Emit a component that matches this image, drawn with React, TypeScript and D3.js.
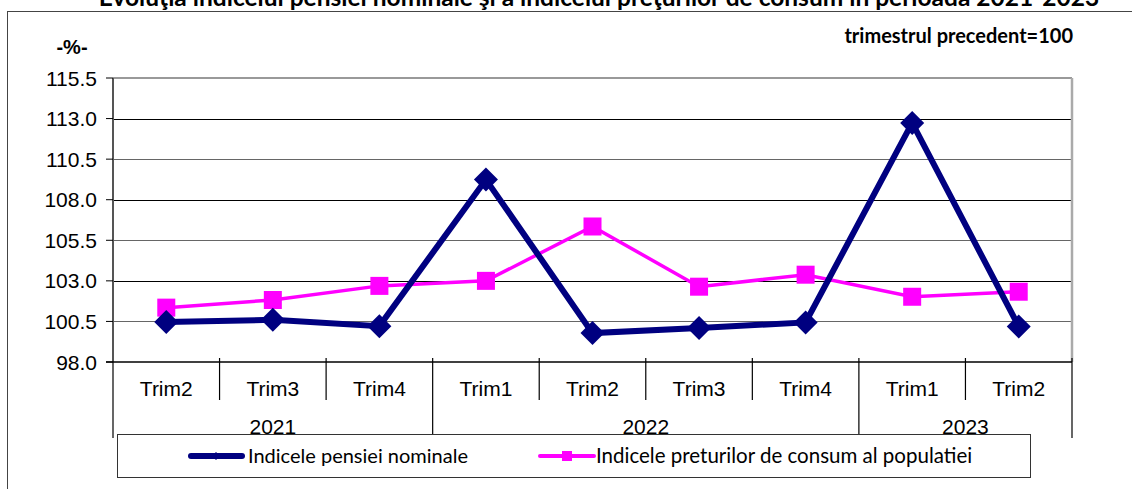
import React from 'react'
import * as d3 from 'd3'

// chart data
const quarters = ['Trim2', 'Trim3', 'Trim4', 'Trim1', 'Trim2', 'Trim3', 'Trim4', 'Trim1', 'Trim2']
const quarterYears = ['2021', '2021', '2021', '2022', '2022', '2022', '2022', '2023', '2023']
const pensionIndex = [100.46, 100.6, 100.21, 109.24, 99.78, 100.09, 100.44, 112.73, 100.19]
const priceIndex = [101.35, 101.82, 102.69, 103.0, 106.35, 102.64, 103.38, 102.02, 102.33]
const yTicks = [98.0, 100.5, 103.0, 105.5, 108.0, 110.5, 113.0, 115.5]

const seriesNames = ['Indicele pensiei nominale', 'Indicele preturilor de consum al populatiei']
const title = 'Evoluţia indicelui pensiei nominale şi a indicelui preţurilor de consum în perioada 2021-2023'

const W = 1132
const H = 489
const plot = { left: 113, right: 1072, top: 78, bottom: 362 }
const numFont = '"Liberation Sans", Arial, sans-serif'
const txtFont = 'Lato, "Open Sans", sans-serif'

export default function App() {
  const x = d3.scaleBand<number>()
    .domain(d3.range(quarters.length))
    .range([plot.left, plot.right])
  const y = d3.scaleLinear().domain([98, 115.5]).range([plot.bottom, plot.top])
  const cx = (i: number) => (x(i) ?? 0) + x.bandwidth() / 2

  const line = d3.line<number>()
    .x((_, i) => cx(i))
    .y(d => y(d))

  // group consecutive quarters by year for the second axis row
  const yearGroups: { year: string; start: number; end: number }[] = []
  quarterYears.forEach((yr, i) => {
    const last = yearGroups[yearGroups.length - 1]
    if (last && last.year === yr) last.end = i
    else yearGroups.push({ year: yr, start: i, end: i })
  })
  const bandEdge = (i: number) => (x(i) ?? plot.right)

  const diamond = (px: number, py: number, r: number) =>
    `M${px},${py - r}L${px + r},${py}L${px},${py + r}L${px - r},${py}Z`

  return (
    <div style={{ position: 'absolute', left: 0, top: 0 }}>
      <svg width={W} height={H} style={{ display: 'block', background: '#fff' }}>
        {/* outer chart frame */}
        <rect x={7.5} y={11.5} width={W + 20} height={H + 20} fill="none" stroke="#444" strokeWidth={1} />

        <text x={599} y={6} textAnchor="middle" fontFamily={txtFont} fontWeight="bold" fontSize={24.5} fill="#000">
          {title}
        </text>
        <text x={72} y={54} textAnchor="middle" fontFamily={numFont} fontWeight="bold" fontSize={20} fill="#000">
          -%-
        </text>
        <text x={1073} y={43} textAnchor="end" fontFamily={txtFont} fontWeight="bold" fontSize={20} fill="#000">
          trimestrul precedent=100
        </text>

        {/* gridlines */}
        {yTicks.slice(1, -1).map((t, i) => (
          <line key={t} x1={plot.left} x2={plot.right} y1={Math.round(y(t)) + 0.5} y2={Math.round(y(t)) + 0.5}
            stroke={i % 2 === 0 ? '#666' : '#000'} strokeWidth={1.2} />
        ))}
        {/* plot border */}
        <line x1={plot.left} x2={plot.right} y1={plot.top} y2={plot.top} stroke="#999" strokeWidth={2} />
        <line x1={plot.right} x2={plot.right} y1={plot.top} y2={plot.bottom} stroke="#aaa" strokeWidth={2.5} />
        <line x1={plot.left} x2={plot.left} y1={plot.top} y2={plot.bottom} stroke="#555" strokeWidth={2} />

        {/* y axis ticks + labels */}
        {yTicks.map(t => (
          <g key={t}>
            <line x1={plot.left - 7} x2={plot.left} y1={y(t)} y2={y(t)} stroke="#000" strokeWidth={1} />
            <text x={97} y={y(t)} dy="0.36em" textAnchor="end" fontFamily={numFont} fontSize={21} fill="#000">
              {t.toFixed(1)}
            </text>
          </g>
        ))}

        {/* x axis */}
        <line x1={plot.left - 7} x2={plot.right} y1={plot.bottom} y2={plot.bottom} stroke="#000" strokeWidth={1.5} />
        {quarters.map((q, i) => (
          <text key={'q' + i} x={cx(i)} y={388} dy="0.36em" textAnchor="middle" fontFamily={numFont} fontSize={21} fill="#000">
            {q}
          </text>
        ))}
        {quarters.map((_, i) => {
          if (i === 0) return null
          const isYearEdge = quarterYears[i] !== quarterYears[i - 1]
          const xx = bandEdge(i)
          return (
            <line key={'s' + i} x1={xx} x2={xx} y1={plot.bottom - 4} y2={isYearEdge ? 438 : 400} stroke="#000" strokeWidth={1.2} />
          )
        })}
        <line x1={plot.left} x2={plot.left} y1={plot.bottom} y2={438} stroke="#000" strokeWidth={1.2} />
        <line x1={plot.right} x2={plot.right} y1={plot.bottom - 4} y2={438} stroke="#000" strokeWidth={1.2} />
        {yearGroups.map(g => (
          <text key={g.year} x={(bandEdge(g.start) + bandEdge(g.end) + x.bandwidth()) / 2} y={426} dy="0.36em"
            textAnchor="middle" fontFamily={numFont} fontSize={21} fill="#000">
            {g.year}
          </text>
        ))}

        {/* series */}
        <path d={line(priceIndex) ?? ''} fill="none" stroke="#FF00FF" strokeWidth={3.5} />
        {priceIndex.map((v, i) => (
          <rect key={'p' + i} x={cx(i) - 9} y={y(v) - 9} width={18} height={18} fill="#FF00FF" />
        ))}
        <path d={line(pensionIndex) ?? ''} fill="none" stroke="#000080" strokeWidth={6} strokeLinejoin="miter" />
        {pensionIndex.map((v, i) => (
          <path key={'b' + i} d={diamond(cx(i), y(v), 12)} fill="#000080" />
        ))}

        {/* legend */}
        <rect x={117.5} y={434.5} width={913} height={43} fill="#fff" stroke="#333" strokeWidth={1} />
        <line x1={191} x2={242} y1={456} y2={456} stroke="#000080" strokeWidth={6} strokeLinecap="round" />
        <path d={diamond(216, 456, 4)} fill="#000080" />
        <text x={248} y={456} dy="0.36em" fontFamily={txtFont} fontSize={20} fill="#000">{seriesNames[0]}</text>
        <line x1={540} x2={594} y1={456} y2={456} stroke="#FF00FF" strokeWidth={4} strokeLinecap="round" />
        <rect x={562} y={451} width={10} height={10} fill="#FF00FF" />
        <text x={596} y={456} dy="0.36em" fontFamily={txtFont} fontSize={20.5} fill="#000">{seriesNames[1]}</text>
      </svg>
    </div>
  )
}
